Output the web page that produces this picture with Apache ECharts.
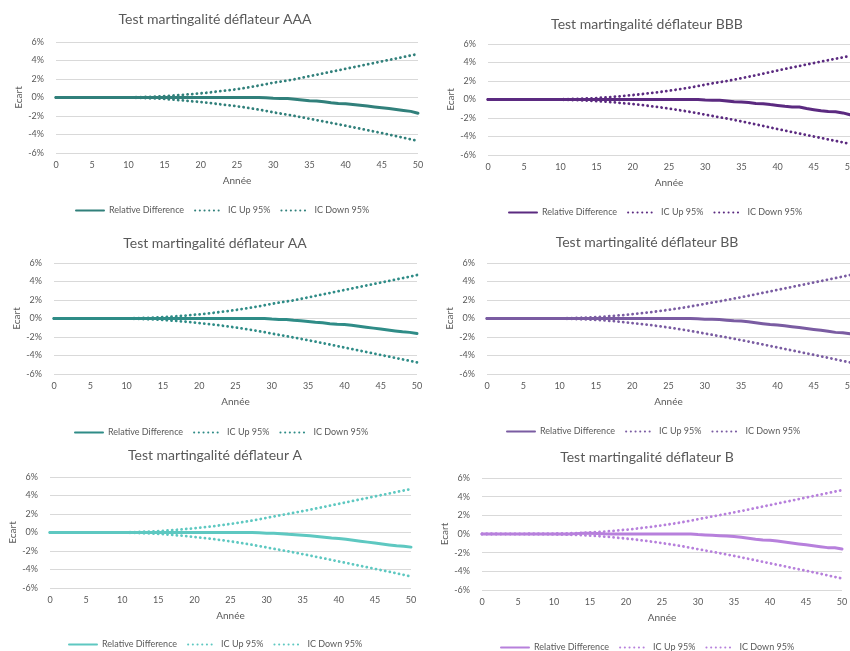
<!DOCTYPE html>
<html>
<head>
<meta charset="utf-8">
<script src="https://cdn.jsdelivr.net/npm/echarts@6/dist/echarts.min.js"></script>
<style>
  html, body { margin: 0; padding: 0; background: #ffffff; }
  body { width: 850px; height: 651px; overflow: hidden; position: relative; }
  .panel { position: absolute; }
</style>
</head>
<body>
<div id="pAAA" class="panel"></div>
<div id="pBBB" class="panel"></div>
<div id="pAA" class="panel"></div>
<div id="pBB" class="panel"></div>
<div id="pA" class="panel"></div>
<div id="pB" class="panel"></div>
<script>
// Projection years
const years = [0,1,2,3,4,5,6,7,8,9,10,11,12,13,14,15,16,17,18,19,20,21,22,23,24,25,26,27,28,29,30,31,32,33,34,35,36,37,38,39,40,41,42,43,44,45,46,47,48,49,50];

// Y-axis ticks (in %)
const yTicks = [-6, -4, -2, 0, 2, 4, 6];
const xTicks = [0, 5, 10, 15, 20, 25, 30, 35, 40, 45, 50];

const seriesNames = ['Relative Difference', 'IC Up 95%', 'IC Down 95%'];

// ---- AAA (values in %) ----
const relDiffAAA = [0,0,0,0,0,0,0,0,0,0, 0,0,0,0,0,0,0,0,0,0, 0,0,0,0,0,0,0,0,0,-0.02, -0.08,-0.1,-0.12,-0.18,-0.26,-0.34,-0.38,-0.46,-0.56,-0.64, -0.68,-0.75,-0.84,-0.93,-1.02,-1.11,-1.2,-1.3,-1.4,-1.5, -1.7];
const icUpAAA = [0,0,0,0,0,0,0,0,0,0.01, 0.02,0.03,0.05,0.07,0.1,0.15,0.2,0.26,0.32,0.38, 0.45,0.53,0.62,0.71,0.8,0.9,1.02,1.15,1.29,1.44, 1.6,1.72,1.84,1.98,2.14,2.3,2.46,2.62,2.78,2.94, 3.1,3.26,3.42,3.58,3.74,3.9,4.06,4.22,4.38,4.54, 4.7];
const icDownAAA = [0,0,0,0,0,0,0,0,0,-0.01, -0.02,-0.03,-0.05,-0.08,-0.11,-0.16,-0.22,-0.28,-0.35,-0.42, -0.5,-0.58,-0.67,-0.76,-0.85,-0.95,-1.06,-1.18,-1.31,-1.45, -1.6,-1.73,-1.86,-2.0,-2.15,-2.3,-2.45,-2.6,-2.75,-2.9, -3.05,-3.21,-3.37,-3.53,-3.69,-3.85,-4.02,-4.19,-4.36,-4.53, -4.7];

// ---- BBB ----
const relDiffBBB = [0,0,0,0,0,0,0,0,0,0, 0,0,0,0,0,0,0,0,0,0, 0,0,0,0,0,0,0,0,0,0, -0.05,-0.08,-0.08,-0.15,-0.24,-0.27,-0.33,-0.42,-0.45,-0.55, -0.64,-0.73,-0.8,-0.82,-0.98,-1.1,-1.22,-1.3,-1.32,-1.45, -1.65];
const icUpBBB = [0,0,0,0,0,0,0,0,0,0.01, 0.02,0.04,0.06,0.09,0.12,0.16,0.21,0.27,0.33,0.4, 0.48,0.56,0.65,0.74,0.84,0.95,1.06,1.18,1.31,1.45, 1.6,1.75,1.88,2.0,2.14,2.3,2.46,2.62,2.79,2.96, 3.13,3.3,3.46,3.62,3.78,3.94,4.1,4.25,4.4,4.55, 4.7];
const icDownBBB = [0,0,0,0,0,0,0,0,0,-0.01, -0.02,-0.04,-0.06,-0.09,-0.12,-0.17,-0.22,-0.28,-0.35,-0.42, -0.5,-0.58,-0.67,-0.77,-0.87,-0.98,-1.1,-1.22,-1.35,-1.49, -1.64,-1.78,-1.92,-2.06,-2.21,-2.37,-2.53,-2.69,-2.86,-3.03, -3.2,-3.36,-3.52,-3.68,-3.84,-4.0,-4.16,-4.32,-4.48,-4.63, -4.8];

// ---- AA ----
const relDiffAA = [0,0,0,0,0,0,0,0,0,0, 0,0,0,0,0,0,0,0,0,0, 0,0,0,0,0,0,0,0,0,0, -0.06,-0.1,-0.12,-0.2,-0.24,-0.32,-0.4,-0.46,-0.56,-0.62, -0.66,-0.74,-0.84,-0.94,-1.04,-1.14,-1.24,-1.34,-1.44,-1.5, -1.62];
const icUpAA = [0,0,0,0,0,0,0,0,0,0.01, 0.02,0.03,0.05,0.07,0.1,0.14,0.19,0.25,0.31,0.38, 0.45,0.53,0.62,0.71,0.81,0.92,1.04,1.16,1.29,1.43, 1.58,1.72,1.84,1.96,2.12,2.28,2.44,2.6,2.76,2.92, 3.08,3.24,3.4,3.56,3.72,3.88,4.04,4.2,4.36,4.52, 4.7];
const icDownAA = [0,0,0,0,0,0,0,0,0,-0.01, -0.02,-0.03,-0.05,-0.08,-0.11,-0.16,-0.21,-0.27,-0.34,-0.41, -0.49,-0.57,-0.66,-0.76,-0.86,-0.97,-1.09,-1.21,-1.34,-1.48, -1.63,-1.77,-1.91,-2.05,-2.2,-2.35,-2.5,-2.66,-2.82,-2.98, -3.14,-3.3,-3.46,-3.62,-3.78,-3.94,-4.1,-4.26,-4.42,-4.58, -4.75];

// ---- BB ----
const relDiffBB = [0,0,0,0,0,0,0,0,0,0, 0,0,0,0,0,0,0,0,0,0, 0,0,0,0,0,0,0,0,0,-0.04, -0.08,-0.08,-0.12,-0.18,-0.24,-0.28,-0.36,-0.46,-0.56,-0.66, -0.7,-0.78,-0.88,-0.98,-1.08,-1.18,-1.28,-1.38,-1.5,-1.54, -1.66];
const icUpBB = [0,0,0,0,0,0,0,0,0,0.01, 0.02,0.03,0.05,0.08,0.11,0.15,0.2,0.26,0.32,0.39, 0.47,0.55,0.64,0.73,0.83,0.94,1.05,1.17,1.3,1.44, 1.58,1.72,1.86,2.0,2.15,2.3,2.45,2.61,2.77,2.93, 3.09,3.25,3.41,3.57,3.73,3.89,4.05,4.21,4.37,4.53, 4.7];
const icDownBB = [0,0,0,0,0,0,0,0,0,-0.01, -0.02,-0.03,-0.05,-0.08,-0.11,-0.15,-0.2,-0.26,-0.33,-0.41, -0.49,-0.57,-0.66,-0.76,-0.86,-0.97,-1.09,-1.21,-1.34,-1.48, -1.62,-1.76,-1.9,-2.04,-2.19,-2.34,-2.49,-2.65,-2.81,-2.97, -3.13,-3.29,-3.45,-3.61,-3.77,-3.93,-4.09,-4.25,-4.42,-4.59, -4.75];

// ---- A ----
const relDiffA = [0,0,0,0,0,0,0,0,0,0, 0,0,0,0,0,0,0,0,0,0, 0,0,0,0,0,0,0,0,0,-0.04, -0.08,-0.08,-0.14,-0.2,-0.24,-0.3,-0.36,-0.44,-0.52,-0.6, -0.66,-0.74,-0.84,-0.94,-1.04,-1.14,-1.24,-1.34,-1.44,-1.48, -1.58];
const icUpA = [0,0,0,0,0,0,0,0,0,0.01, 0.02,0.03,0.05,0.08,0.11,0.15,0.2,0.26,0.32,0.39, 0.46,0.54,0.63,0.72,0.82,0.93,1.04,1.16,1.29,1.43, 1.58,1.73,1.88,2.02,2.16,2.31,2.46,2.62,2.78,2.94, 3.1,3.26,3.42,3.58,3.74,3.9,4.06,4.22,4.38,4.54, 4.7];
const icDownA = [0,0,0,0,0,0,0,0,0,-0.01, -0.02,-0.03,-0.05,-0.08,-0.11,-0.15,-0.2,-0.26,-0.33,-0.4, -0.48,-0.56,-0.65,-0.75,-0.85,-0.96,-1.08,-1.2,-1.33,-1.47, -1.62,-1.76,-1.9,-2.04,-2.19,-2.34,-2.49,-2.65,-2.81,-2.97, -3.13,-3.29,-3.45,-3.61,-3.77,-3.93,-4.09,-4.25,-4.42,-4.58, -4.75];

// ---- B ----
const relDiffB = [0,0,0,0,0,0,0,0,0,0, 0,0,0,0.04,0.08,0.08,0.06,0.02,0,0, 0,0,0,0,0,0,0,0,0,0, -0.06,-0.1,-0.14,-0.18,-0.22,-0.28,-0.36,-0.46,-0.56,-0.64, -0.68,-0.76,-0.86,-0.96,-1.06,-1.16,-1.26,-1.36,-1.46,-1.48, -1.6];
const icUpB = [0,0,0,0.01,0.01,0.02,0.02,0.03,0.03,0.04, 0.05,0.06,0.08,0.1,0.13,0.16,0.21,0.26,0.32,0.39, 0.46,0.54,0.63,0.72,0.82,0.93,1.04,1.16,1.29,1.43, 1.58,1.73,1.88,2.02,2.16,2.31,2.46,2.62,2.78,2.94, 3.1,3.26,3.42,3.58,3.74,3.9,4.06,4.22,4.38,4.54, 4.7];
const icDownB = [0,0,0,-0.01,-0.01,-0.02,-0.02,-0.03,-0.03,-0.04, -0.05,-0.06,-0.08,-0.1,-0.13,-0.17,-0.22,-0.28,-0.34,-0.41, -0.49,-0.57,-0.66,-0.76,-0.86,-0.97,-1.09,-1.21,-1.34,-1.48, -1.63,-1.77,-1.91,-2.05,-2.2,-2.35,-2.5,-2.66,-2.82,-2.98, -3.14,-3.3,-3.46,-3.62,-3.78,-3.94,-4.1,-4.26,-4.43,-4.6, -4.76];

const FONT = 'Lato, "Open Sans", sans-serif';
const GREY = '#595959';

// Panel layout: page position of each chart and its plot area
const panels = [
  { el: 'pAAA', title: 'Test martingalité déflateur AAA', color: '#31807B', data: [relDiffAAA, icUpAAA, icDownAAA],
    box: { left: 0, top: 0, width: 430, height: 220 }, grid: { left: 56, right: 12, top: 42, height: 111 },
    titleTop: 7, legendTop: 201, legendLeft: 70 },
  { el: 'pBBB', title: 'Test martingalité déflateur BBB', color: '#5B2A80', data: [relDiffBBB, icUpBBB, icDownBBB],
    box: { left: 432, top: 0, width: 430, height: 220 }, grid: { left: 56, right: 12, top: 44, height: 111 },
    titleTop: 12, legendTop: 203, legendLeft: 71 },
  { el: 'pAA', title: 'Test martingalité déflateur AA', color: '#2F8C87', data: [relDiffAA, icUpAA, icDownAA],
    box: { left: 0, top: 220, width: 430, height: 220 }, grid: { left: 54, right: 13, top: 43, height: 111 },
    titleTop: 11, legendTop: 203, legendLeft: 69 },
  { el: 'pBB', title: 'Test martingalité déflateur BB', color: '#7A5CA2', data: [relDiffBB, icUpBB, icDownBB],
    box: { left: 432, top: 220, width: 430, height: 220 }, grid: { left: 55, right: 12, top: 43, height: 111 },
    titleTop: 10, legendTop: 202, legendLeft: 69 },
  { el: 'pA', title: 'Test martingalité déflateur A', color: '#5EC8C1', data: [relDiffA, icUpA, icDownA],
    box: { left: 0, top: 440, width: 430, height: 211 }, grid: { left: 49, right: 19, top: 37, height: 111 },
    titleTop: 3, legendTop: 195, legendLeft: 63 },
  { el: 'pB', title: 'Test martingalité déflateur B', color: '#B780DC', data: [relDiffB, icUpB, icDownB],
    box: { left: 432, top: 440, width: 430, height: 211 }, grid: { left: 49, right: 20, top: 38, height: 112 },
    titleTop: 5, legendTop: 198, legendLeft: 63 }
];

const dotted = { type: [0.1, 4.6], cap: 'round', width: 2.8 };

panels.forEach(function (p) {
  const dom = document.getElementById(p.el);
  dom.style.left = p.box.left + 'px';
  dom.style.top = p.box.top + 'px';
  dom.style.width = p.box.width + 'px';
  dom.style.height = p.box.height + 'px';
  const chart = echarts.init(dom, null, { renderer: 'canvas' });

  const series = seriesNames.map(function (name, k) {
    const values = p.data[k];
    return {
      name: name,
      type: 'line',
      symbol: 'none',
      smooth: false,
      z: k === 0 ? 3 : 2,
      data: years.map(function (yr, i) { return [yr, values[i]]; }),
      lineStyle: k === 0
        ? { color: p.color, width: 3, type: 'solid', cap: 'round' }
        : Object.assign({ color: p.color }, dotted),
      itemStyle: { color: p.color },
      emphasis: { disabled: true }
    };
  });

  chart.setOption({
    animation: false,
    backgroundColor: '#ffffff',
    title: {
      text: p.title,
      left: 'center',
      top: p.titleTop,
      textStyle: { fontFamily: FONT, fontSize: 14, fontWeight: 'normal', color: GREY }
    },
    grid: p.grid,
    xAxis: {
      type: 'value',
      min: xTicks[0],
      max: xTicks[xTicks.length - 1],
      interval: 5,
      name: 'Année',
      nameLocation: 'middle',
      nameGap: 23,
      nameMoveOverlap: false,
      nameTextStyle: { fontFamily: FONT, fontSize: 10, color: GREY },
      axisLine: { show: false },
      axisTick: { show: false },
      splitLine: { show: false },
      axisLabel: { fontFamily: FONT, fontSize: 9, color: GREY, margin: 8 }
    },
    yAxis: {
      type: 'value',
      min: yTicks[0],
      max: yTicks[yTicks.length - 1],
      interval: 2,
      name: 'Ecart',
      nameLocation: 'middle',
      nameGap: 32,
      nameMoveOverlap: false,
      nameTextStyle: { fontFamily: FONT, fontSize: 10, color: GREY },
      axisLine: { show: false },
      axisTick: { show: false },
      splitLine: { lineStyle: { color: '#D9D9D9', width: 1 } },
      axisLabel: { fontFamily: FONT, fontSize: 9, color: GREY, margin: 12, formatter: '{value}%' }
    },
    legend: {
      top: p.legendTop,
      left: p.legendLeft,
      itemWidth: 28,
      itemHeight: 8,
      itemGap: 10,
      selectedMode: false,
      itemStyle: { opacity: 0 },
      textStyle: { fontFamily: FONT, fontSize: 9, color: GREY },
      data: seriesNames
    },
    series: series
  });
});
</script>
</body>
</html>
